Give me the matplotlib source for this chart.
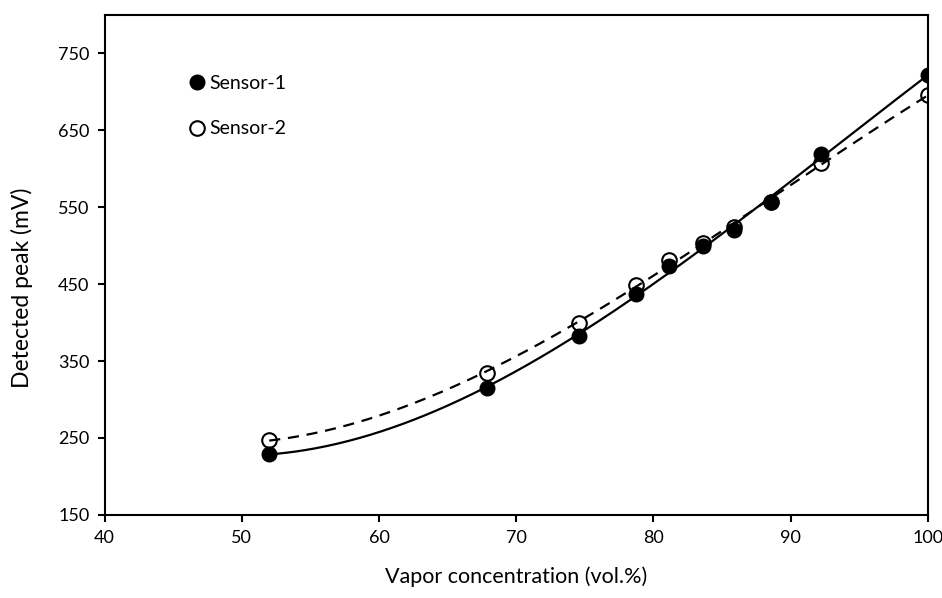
import numpy as np
import matplotlib
matplotlib.use("Agg")
import matplotlib.pyplot as plt
from matplotlib.lines import Line2D

plt.rcParams['font.family'] = ['Lato', 'DejaVu Sans']

# Data
conc = [52.0, 67.9, 74.6, 78.7, 81.1, 83.6, 85.9, 88.6, 92.2, 100.0]
sensor1 = [229, 315, 383, 437, 473, 499, 520, 557, 619, 722]
sensor2 = [247, 335, 400, 449, 482, 503, 524, 557, 608, 696]
xticks = [40, 50, 60, 70, 80, 90, 100]
yticks = [150, 250, 350, 450, 550, 650, 750]
labels = ["Sensor-1", "Sensor-2"]

fig = plt.figure(figsize=(9.42, 5.98), dpi=100)
ax = fig.add_axes([0.111, 0.139, 0.874, 0.836])

x = np.array(conc)
xs = np.linspace(x.min(), x.max(), 300)

# Polynomial (order 3) trendlines
c2 = np.polyfit(x, sensor2, 3)
ax.plot(xs, np.polyval(c2, xs), color='black', lw=1.6, ls=(0, (5, 3.5)), zorder=2)
c1 = np.polyfit(x, sensor1, 3)
ax.plot(xs, np.polyval(c1, xs), color='black', lw=1.6, ls='-', zorder=2)

ax.plot(x, sensor2, 'o', ms=10.5, mfc='none', mec='black', mew=1.5, zorder=3)
ax.plot(x, sensor1, 'o', ms=10.5, mfc='black', mec='black', zorder=4)

ax.set_xlim(40, 100)
ax.set_ylim(150, 800)
ax.set_xticks(xticks)
ax.set_yticks(yticks)
ax.tick_params(direction='out', length=5, width=1.5, labelsize=13, pad=6)
for s in ax.spines.values():
    s.set_linewidth(1.5)
    s.set_color('black')

ax.set_xlabel("Vapor concentration (vol.%)", fontsize=15.5)
ax.xaxis.set_label_coords(0.5, -0.104)
ax.set_ylabel("Detected peak (mV)", fontsize=16.5)
ax.yaxis.set_label_coords(-0.087, 0.454)

handles = [Line2D([], [], ls='none', marker='o', ms=10.5, mfc='black', mec='black'),
           Line2D([], [], ls='none', marker='o', ms=10.5, mfc='none', mec='black', mew=1.5)]
ax.legend(handles, labels, loc='upper left', bbox_to_anchor=(0.089, 0.895),
          frameon=False, fontsize=14, handletextpad=0.0, labelspacing=1.45,
          handlelength=1.2, borderaxespad=0)

fig.savefig("out.png", dpi=100)
